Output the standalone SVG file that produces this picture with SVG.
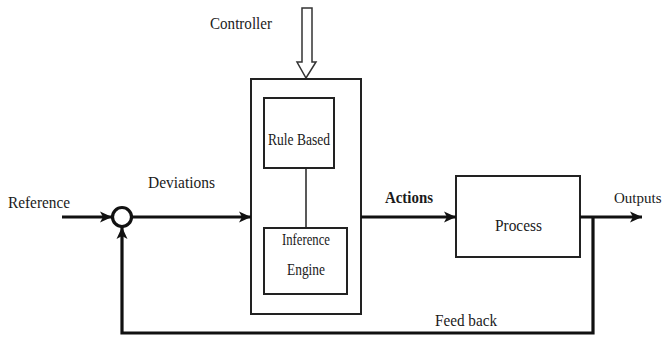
<svg xmlns="http://www.w3.org/2000/svg" width="664" height="340" viewBox="0 0 664 340">
<style>
.box{fill:#fff;stroke:#222;stroke-width:2}
.t{font-family:"Liberation Serif","Times New Roman",serif;font-size:17px;fill:#1a1a1a}
.b{font-weight:bold}
.thick{fill:none;stroke:#111;stroke-width:3.2}
.thin{fill:none;stroke:#222;stroke-width:1.5}
</style>
<defs>
<marker id="ah" markerUnits="userSpaceOnUse" markerWidth="14" markerHeight="14" refX="12" refY="7" orient="auto">
<path d="M0,1.5 L12,7 L0,12.5 L3,7 Z" fill="#111"/>
</marker>
</defs>
<rect width="664" height="340" fill="#fff"/>
<g id="controller-arrow">
<path d="M302,8 L312,8 L312,62 L316,62 L306,78 L297,62 L302,62 Z" fill="#fff" stroke="#333" stroke-width="1.5"/>
<text class="t" x="210" y="29" textLength="62" lengthAdjust="spacingAndGlyphs">Controller</text>
</g>
<g id="controller">
<rect class="box" x="251" y="79" width="110" height="235"/>
</g>
<g id="rule-based">
<rect class="box" x="264" y="98" width="70" height="70"/>
<text class="t" x="268" y="145" textLength="62" lengthAdjust="spacingAndGlyphs">Rule Based</text>
</g>
<g id="inference-engine">
<rect class="box" x="264" y="228" width="83" height="66"/>
<text class="t" x="282" y="245" textLength="48" lengthAdjust="spacingAndGlyphs">Inference</text>
<text class="t" x="287" y="275" textLength="38" lengthAdjust="spacingAndGlyphs">Engine</text>
</g>
<g id="summing-junction">
<circle cx="122" cy="217" r="9.5" fill="#fff" stroke="#111" stroke-width="3.2"/>
</g>
<g id="process">
<rect class="box" x="456" y="176" width="124" height="81"/>
<text class="t" x="495" y="231" textLength="47" lengthAdjust="spacingAndGlyphs">Process</text>
</g>
<g id="connectors">
<line class="thin" x1="306" y1="168" x2="306" y2="228"/>
<line class="thick" x1="62" y1="217" x2="112" y2="217" marker-end="url(#ah)"/>
<line class="thick" x1="132" y1="217" x2="251" y2="217" marker-end="url(#ah)"/>
<line class="thick" x1="361" y1="217" x2="456" y2="217" marker-end="url(#ah)"/>
<line class="thick" x1="580" y1="217" x2="642" y2="217" marker-end="url(#ah)"/>
<path class="thick" d="M593,217 L593,333 L122,333 L122,227" marker-end="url(#ah)"/>
</g>
<g id="labels">
<text class="t" x="8" y="208" textLength="62" lengthAdjust="spacingAndGlyphs">Reference</text>
<text class="t" x="148" y="188" textLength="67" lengthAdjust="spacingAndGlyphs">Deviations</text>
<text class="t b" x="385" y="203" textLength="48" lengthAdjust="spacingAndGlyphs">Actions</text>
<text class="t" x="614" y="203" style="font-size:15px">Outputs</text>
<text class="t" x="435" y="326" textLength="62" lengthAdjust="spacingAndGlyphs">Feed back</text>
</g>
</svg>
